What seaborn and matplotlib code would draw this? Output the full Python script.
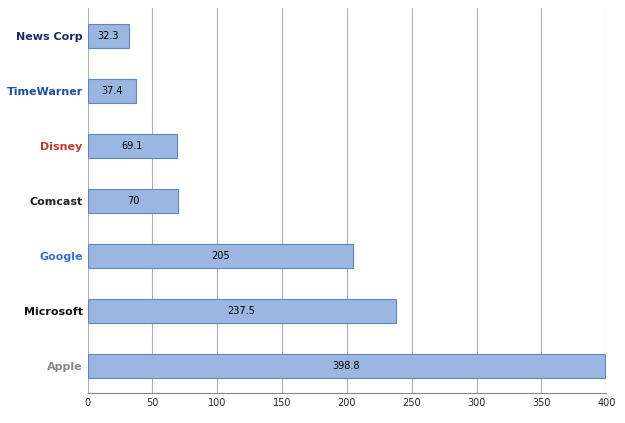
import matplotlib
matplotlib.use("Agg")
import matplotlib.pyplot as plt
import seaborn as sns
import pandas as pd

# company labels (logos in the original) and values
companies = ["News Corp", "TimeWarner", "Disney", "Comcast", "Google", "Microsoft", "Apple"]
values = [32.3, 37.4, 69.1, 70, 205, 237.5, 398.8]
label_colors = ["#1a2a6c", "#1f4e9c", "#c0392b", "#222222", "#3b6fd6", "#111111", "#888888"]

df = pd.DataFrame({"company": companies, "value": values})

sns.set_style("white")
fig, ax = plt.subplots(figsize=(6.25, 4.23), dpi=100)

sns.barplot(data=df, y="company", x="value", color="#8fb4ec", edgecolor="#5f86c4",
            linewidth=0.8, width=0.45, ax=ax, orient="h")

for i, v in enumerate(values):
    txt = str(v) if v != int(v) else str(int(v))
    ax.text(v / 2, i, txt, ha="center", va="center", fontsize=7, color="black")

ax.set_xlim(0, 400)
ax.set_xticks(range(0, 401, 50))
ax.tick_params(axis="x", labelsize=7, length=0)
ax.grid(axis="x", color="#b0b0b0", linewidth=0.8)
ax.set_axisbelow(True)
ax.set_xlabel("")
ax.set_ylabel("")
ax.set_yticks(range(len(companies)))
ax.set_yticklabels(companies, fontsize=8, fontweight="bold")
for lbl, c in zip(ax.get_yticklabels(), label_colors):
    lbl.set_color(c)
ax.tick_params(axis="y", length=0)
for s in ["top", "right", "left"]:
    ax.spines[s].set_visible(False)
ax.spines["bottom"].set_color("#888888")

fig.subplots_adjust(left=0.14, right=0.97, top=0.98, bottom=0.07)
fig.savefig("out.png", dpi=100)
